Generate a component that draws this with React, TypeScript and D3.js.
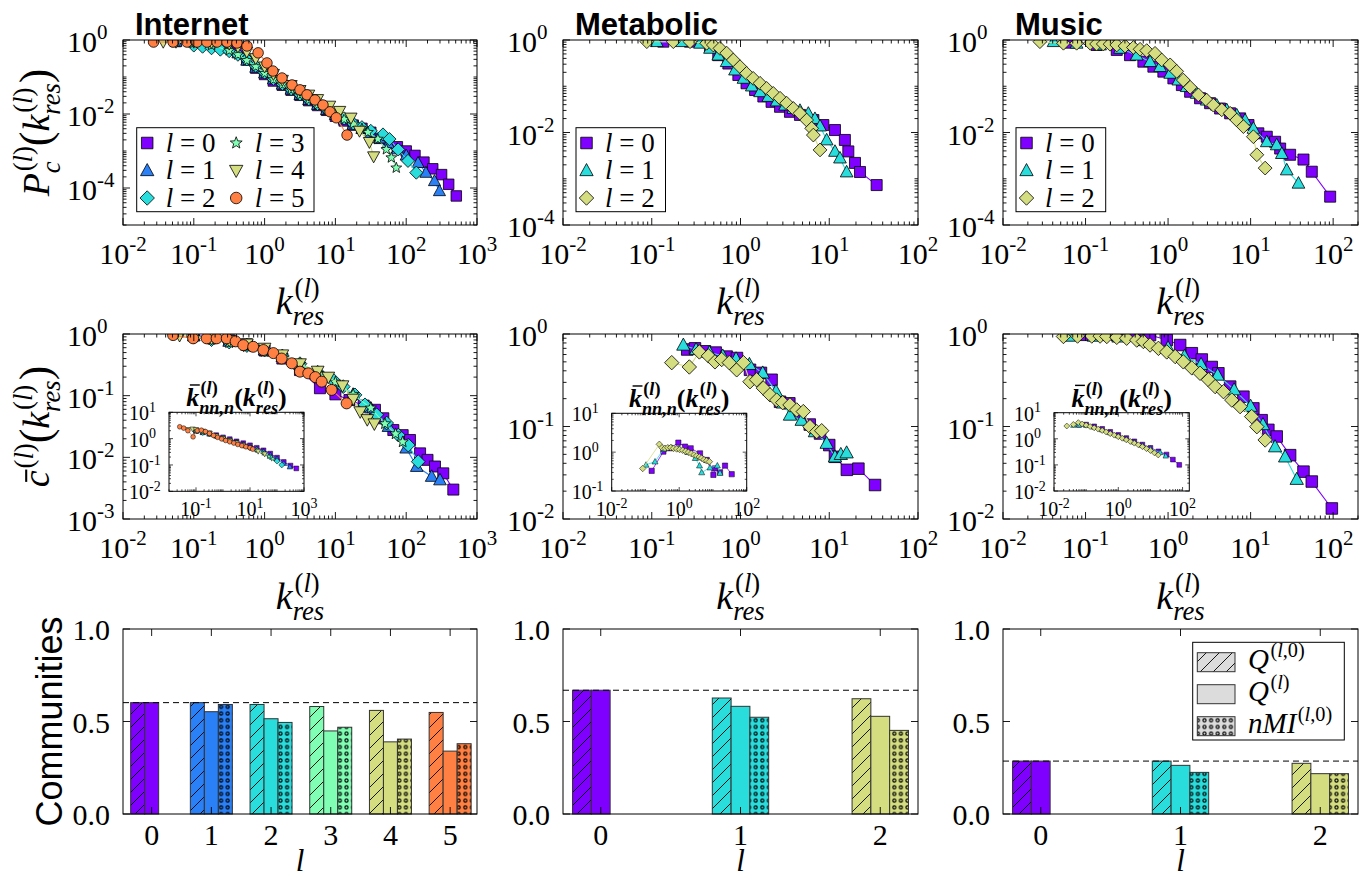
import React, { useLayoutEffect, useRef, useState } from 'react';
import * as d3 from 'd3';

const SERIF = "'Liberation Serif', 'Times New Roman', 'DejaVu Serif', 'Noto Serif', serif";
const SANS = "'Liberation Sans', Arial, Helvetica, sans-serif";

// ---------------- colours, markers, levels ----------------
const internetLevelColors = ['#8000ff', '#2a80f6', '#2adddd', '#80ffb4', '#d4dd80', '#ff8042'];
const threeLevelColors = ['#8000ff', '#2adddd', '#d4dd80'];
const internetMarkers = ['s', '^', 'D', '*', 'v', 'o'];
const threeLevelMarkers = ['s', '^', 'D'];
const internetLevels = [0, 1, 2, 3, 4, 5];
const threeLevels = [0, 1, 2];
const panelTitles = ['Internet', 'Metabolic', 'Music'];

// ---------------- tick exponents ----------------
const inetXExps = [-2, -1, 0, 1, 2, 3];
const smallXExps = [-2, -1, 0, 1, 2];
const topYExps = [0, -2, -4];
const inetMidYExps = [0, -1, -2, -3];
const smallMidYExps = [0, -1, -2];
const barYTicks = [0, 0.5, 1.0];

// ---------------- Internet : P_c(k) ----------------
const inetP_k0 = [0.056, 0.1, 0.178, 0.316, 0.42, 0.56, 0.75, 1, 1.33, 1.78, 2.37, 3.16, 4.2, 5.6, 7.5, 10, 13.3, 17.8, 23.7, 31.6, 42, 56, 75, 100, 133, 178, 237, 316, 398, 510];
const inetP_v0 = [0.91, 0.89, 0.83, 0.63, 0.47, 0.29, 0.174, 0.117, 0.078, 0.060, 0.044, 0.032, 0.023, 0.017, 0.0126, 0.0087, 0.0065, 0.0050, 0.0041, 0.0032, 0.0022, 0.0017, 0.0013, 0.0010, 0.00076, 0.00050, 0.00033, 0.00023, 0.000126, 0.000061];
const inetP_k1 = [0.056, 0.1, 0.178, 0.316, 0.42, 0.56, 0.75, 1, 1.33, 1.78, 2.37, 3.16, 4.2, 5.6, 7.5, 10, 13.3, 17.8, 23.7, 31.6, 42, 56, 75, 100, 147, 190, 251, 295];
const inetP_v1 = [0.91, 0.89, 0.81, 0.60, 0.44, 0.28, 0.18, 0.126, 0.087, 0.063, 0.046, 0.033, 0.024, 0.0178, 0.0129, 0.0095, 0.0071, 0.0052, 0.0040, 0.0030, 0.0022, 0.00158, 0.00112, 0.00076, 0.00048, 0.00026, 0.000155, 0.000083];
const inetP_k2 = [0.1, 0.133, 0.178, 0.237, 0.316, 0.42, 0.56, 0.75, 1, 1.33, 1.78, 2.37, 3.16, 4.2, 5.6, 7.5, 10, 13.3, 17.8, 23.7, 31.6, 47, 58, 77, 106, 139];
const inetP_v2 = [0.71, 0.66, 0.60, 0.55, 0.50, 0.40, 0.30, 0.20, 0.132, 0.089, 0.065, 0.047, 0.034, 0.025, 0.0186, 0.0135, 0.010, 0.0076, 0.0056, 0.0044, 0.0035, 0.0028, 0.0021, 0.0011, 0.00054, 0.00026];
const inetP_k3 = [0.056, 0.1, 0.178, 0.316, 0.42, 0.56, 0.75, 1, 1.33, 1.78, 2.37, 3.16, 4.2, 5.6, 7.5, 10, 13.3, 17.8, 23.7, 28.8, 39.8, 52.5, 61.7, 72.4];
const inetP_v3 = [0.89, 0.83, 0.72, 0.52, 0.40, 0.28, 0.19, 0.126, 0.085, 0.062, 0.045, 0.033, 0.024, 0.0178, 0.0132, 0.0098, 0.0072, 0.0054, 0.0040, 0.0032, 0.0021, 0.0011, 0.00066, 0.00035];
const inetP_k4 = [0.037, 0.056, 0.1, 0.178, 0.316, 0.42, 0.56, 0.75, 1, 1.33, 1.78, 2.37, 3.16, 4.2, 5.6, 8.3, 11.5, 16.6, 21.9, 30.2, 34.7];
const inetP_v4 = [0.89, 0.89, 0.89, 0.87, 0.79, 0.66, 0.48, 0.32, 0.19, 0.12, 0.083, 0.060, 0.044, 0.033, 0.025, 0.0166, 0.0120, 0.0079, 0.0035, 0.00174, 0.00071];
const inetP_k5 = [0.027, 0.051, 0.080, 0.111, 0.153, 0.213, 0.294, 0.407, 0.564, 0.81, 1.08, 1.31, 1.76, 2.44, 3.16, 3.97, 5.15, 6.68, 8.4, 10.3, 14.6];
const inetP_v5 = [0.88, 0.88, 0.88, 0.88, 0.88, 0.88, 0.88, 0.83, 0.69, 0.45, 0.24, 0.145, 0.094, 0.061, 0.045, 0.033, 0.024, 0.0175, 0.0115, 0.0079, 0.0027];

// ---------------- Metabolic : P_c(k) ----------------
const metP_k0 = [0.135, 0.27, 0.453, 0.562, 0.73, 0.946, 1.17, 1.46, 1.81, 2.24, 2.79, 3.61, 4.68, 6.62, 8.57, 11.6, 15.0, 16.4, 19.5, 22.2, 34.2];
const metP_v0 = [0.92, 0.92, 0.72, 0.47, 0.31, 0.175, 0.116, 0.083, 0.060, 0.046, 0.036, 0.028, 0.024, 0.0186, 0.0145, 0.0113, 0.0069, 0.0039, 0.0022, 0.0014, 0.00073];
const metP_k1 = [0.114, 0.217, 0.35, 0.453, 0.562, 0.698, 0.867, 1.08, 1.34, 1.66, 2.06, 2.56, 3.18, 3.94, 4.68, 5.81, 6.9, 7.87, 9.35, 11.6, 13.2, 15.7];
const metP_v1 = [0.92, 0.92, 0.85, 0.66, 0.47, 0.34, 0.224, 0.148, 0.101, 0.076, 0.060, 0.048, 0.039, 0.033, 0.030, 0.026, 0.020, 0.0138, 0.0069, 0.0039, 0.0028, 0.0014];
const metP_k2 = [0.088, 0.175, 0.27, 0.416, 0.494, 0.587, 0.698, 0.83, 0.986, 1.17, 1.39, 1.66, 1.97, 2.34, 2.79, 3.31, 3.94, 4.68, 5.56, 6.34, 6.62, 7.87];
const metP_v2 = [0.92, 0.92, 0.92, 0.85, 0.78, 0.66, 0.52, 0.37, 0.265, 0.19, 0.148, 0.116, 0.090, 0.070, 0.055, 0.043, 0.033, 0.026, 0.0186, 0.0123, 0.0088, 0.0042];

// ---------------- Music : P_c(k) ----------------
const musP_k0 = [0.065, 0.136, 0.239, 0.346, 0.502, 0.664, 0.877, 1.16, 1.47, 1.85, 2.44, 3.23, 4.27, 5.65, 7.46, 9.42, 12.4, 15.7, 19.8, 22.8, 30.1, 43.7, 55.1, 92];
const musP_v0 = [0.875, 0.78, 0.61, 0.47, 0.34, 0.265, 0.207, 0.148, 0.106, 0.076, 0.055, 0.043, 0.033, 0.026, 0.0202, 0.0145, 0.0096, 0.0081, 0.0063, 0.0045, 0.0033, 0.0026, 0.00142, 0.00041];
const musP_k1 = [0.041, 0.078, 0.15, 0.262, 0.417, 0.605, 0.8, 1.06, 1.33, 1.68, 2.22, 2.94, 3.89, 5.14, 6.79, 8.57, 10.8, 15.7, 20.7, 23.9, 27.4, 38];
const musP_v1 = [0.92, 0.85, 0.78, 0.66, 0.47, 0.34, 0.265, 0.19, 0.136, 0.098, 0.070, 0.050, 0.039, 0.031, 0.0239, 0.0186, 0.0123, 0.0063, 0.0054, 0.0035, 0.00155, 0.00080];
const musP_k2 = [0.028, 0.054, 0.078, 0.114, 0.136, 0.164, 0.198, 0.239, 0.301, 0.38, 0.458, 0.551, 0.695, 0.838, 1.06, 1.27, 1.53, 1.85, 2.33, 2.94, 3.54, 4.47, 5.65, 6.79, 8.18, 10.8, 11.9, 15.0];
const musP_v2 = [0.92, 0.85, 0.85, 0.85, 0.82, 0.82, 0.81, 0.78, 0.74, 0.69, 0.63, 0.59, 0.515, 0.37, 0.29, 0.21, 0.136, 0.095, 0.065, 0.050, 0.039, 0.031, 0.026, 0.0186, 0.0134, 0.0081, 0.0033, 0.0017];

// ---------------- Internet : c(k) ----------------
const inetC_k0 = [0.1, 0.178, 0.316, 0.562, 1, 1.78, 3.16, 6.05, 10, 15.8, 25.1, 36.2, 47.5, 65.8, 89.1, 113, 157, 200, 255, 334, 463];
const inetC_v0 = [0.95, 0.89, 0.79, 0.68, 0.54, 0.40, 0.26, 0.132, 0.105, 0.085, 0.069, 0.059, 0.043, 0.0277, 0.0229, 0.0191, 0.0116, 0.0091, 0.0071, 0.0055, 0.0030];
const inetC_k1 = [0.1, 0.178, 0.316, 0.562, 1, 1.78, 3.16, 5.62, 10, 17.8, 31.6, 56.2, 100, 141, 229, 300];
const inetC_v1 = [0.93, 0.85, 0.76, 0.66, 0.55, 0.43, 0.32, 0.22, 0.158, 0.105, 0.063, 0.0316, 0.0141, 0.0071, 0.0049, 0.0043];
const inetC_k2 = [0.1, 0.178, 0.316, 0.562, 1, 1.78, 3.16, 5.62, 9.35, 12.9, 18.9, 26.2, 38.3, 53, 77.4, 107, 148];
const inetC_v2 = [0.89, 0.81, 0.74, 0.65, 0.55, 0.44, 0.33, 0.24, 0.179, 0.140, 0.103, 0.071, 0.049, 0.036, 0.023, 0.0158, 0.0085];
const inetC_k3 = [0.1, 0.178, 0.316, 0.562, 1, 1.78, 3.16, 5.62, 10, 17.8, 31.6, 50.1, 70.8, 89.1];
const inetC_v3 = [0.89, 0.81, 0.72, 0.62, 0.52, 0.41, 0.32, 0.23, 0.166, 0.105, 0.063, 0.035, 0.024, 0.0178];
const inetC_k4 = [0.063, 0.1, 0.178, 0.316, 0.562, 1, 1.78, 3.16, 5.62, 7.94, 12.6, 17.8, 22.4, 28.2, 35.5];
const inetC_v4 = [0.95, 0.91, 0.85, 0.79, 0.69, 0.59, 0.46, 0.33, 0.25, 0.20, 0.145, 0.088, 0.055, 0.041, 0.035];
const inetC_k5 = [0.051, 0.098, 0.152, 0.21, 0.292, 0.39, 0.50, 0.69, 0.96, 1.33, 1.74, 2.42, 3.16, 4.14, 5.2, 6.4, 8.85, 14.4];
const inetC_v5 = [0.96, 0.85, 0.85, 0.85, 0.85, 0.76, 0.66, 0.62, 0.55, 0.49, 0.40, 0.335, 0.245, 0.23, 0.2, 0.169, 0.124, 0.075];

// ---------------- Metabolic : c(k) ----------------
const metC_k0 = [0.251, 0.307, 0.398, 0.525, 0.698, 0.912, 1.28, 1.70, 2.24, 2.79, 3.55, 4.68, 6.03, 7.87, 10, 11.6, 15.8, 21.3, 32.8];
const metC_v0 = [0.68, 0.70, 0.65, 0.63, 0.57, 0.55, 0.41, 0.38, 0.32, 0.185, 0.178, 0.139, 0.105, 0.084, 0.063, 0.047, 0.034, 0.035, 0.0233];
const metC_k1 = [0.227, 0.316, 0.447, 0.631, 0.891, 1.26, 1.78, 2.51, 3.0, 3.61, 4.89, 6.9, 9.35, 11.6, 13.5, 15.7];
const metC_v1 = [0.76, 0.68, 0.63, 0.58, 0.54, 0.47, 0.38, 0.24, 0.18, 0.133, 0.117, 0.088, 0.066, 0.047, 0.050, 0.052];
const metC_k2 = [0.168, 0.265, 0.344, 0.435, 0.516, 0.614, 0.748, 0.906, 1.08, 1.28, 1.52, 1.81, 2.15, 2.56, 2.99, 3.61, 4.3, 5.1, 6.07, 7.21, 8.22];
const metC_v2 = [0.49, 0.44, 0.64, 0.58, 0.50, 0.53, 0.49, 0.41, 0.49, 0.305, 0.32, 0.26, 0.22, 0.193, 0.181, 0.171, 0.151, 0.145, 0.0995, 0.088, 0.090];

// ---------------- Music : c(k) ----------------
const musC_k0 = [0.06, 0.1, 0.15, 0.239, 0.4, 0.605, 0.964, 1.40, 1.94, 2.56, 3.38, 4.07, 5.65, 8.18, 10.8, 13.6, 16.4, 20.7, 30.1, 43.7, 55.1, 96.4];
const musC_v0 = [0.98, 0.98, 0.98, 0.98, 0.98, 0.975, 0.86, 0.76, 0.62, 0.53, 0.44, 0.376, 0.27, 0.21, 0.157, 0.117, 0.092, 0.078, 0.049, 0.0325, 0.0254, 0.0130];
const musC_k1 = [0.063, 0.126, 0.251, 0.501, 1, 1.58, 2.51, 3.98, 6.31, 10, 14.1, 19.8, 26.2, 36.2];
const musC_v1 = [0.95, 0.95, 0.93, 0.85, 0.71, 0.575, 0.47, 0.36, 0.25, 0.166, 0.105, 0.0605, 0.047, 0.0269];
const musC_k2 = [0.054, 0.08, 0.119, 0.15, 0.181, 0.239, 0.315, 0.417, 0.502, 0.605, 0.764, 0.964, 1.22, 1.53, 1.94, 2.44, 3.08, 3.72, 4.69, 5.92, 7.46, 10.3, 11.9, 15.0];
const musC_v2 = [0.94, 0.95, 0.95, 0.95, 0.94, 0.92, 0.90, 0.86, 0.83, 0.76, 0.70, 0.64, 0.57, 0.50, 0.43, 0.376, 0.32, 0.27, 0.238, 0.193, 0.164, 0.128, 0.0995, 0.0715];

// ---------------- Insets : k_nn,n(k) ----------------
const inetK_k0 = [0.1, 0.178, 0.316, 0.562, 1, 1.78, 3.16, 5.62, 10, 17.8, 31.6, 56.2, 100, 178, 316, 519];
const inetK_v0 = [2.0, 1.8, 1.58, 1.35, 1.12, 0.95, 0.79, 0.67, 0.56, 0.45, 0.36, 0.27, 0.19, 0.13, 0.095, 0.074];
const inetK_k1 = [0.1, 0.178, 0.316, 0.562, 1, 1.78, 3.16, 5.62, 10, 17.8, 31.6, 56.2, 100, 178, 300];
const inetK_v1 = [1.9, 1.7, 1.5, 1.27, 1.05, 0.9, 0.74, 0.6, 0.5, 0.4, 0.33, 0.24, 0.17, 0.115, 0.085];
const inetK_k2 = [0.1, 0.178, 0.316, 0.562, 1, 1.78, 3.16, 5.62, 10, 17.8, 31.6, 56.2, 100, 150];
const inetK_v2 = [1.95, 1.7, 1.5, 1.25, 1.05, 0.88, 0.72, 0.58, 0.48, 0.38, 0.3, 0.2, 0.14, 0.1];
const inetK_k3 = [0.1, 0.178, 0.316, 0.562, 1, 1.78, 3.16, 5.62, 10, 17.8, 31.6, 50, 70];
const inetK_v3 = [2.0, 1.75, 1.5, 1.22, 1.0, 0.84, 0.7, 0.57, 0.46, 0.36, 0.28, 0.21, 0.17];
const inetK_k4 = [0.05, 0.075, 0.1, 0.178, 0.316, 0.562, 1, 1.78, 3.16, 5.62, 10, 20, 35];
const inetK_v4 = [2.2, 2.3, 2.2, 1.9, 1.6, 1.25, 1.0, 0.83, 0.68, 0.55, 0.44, 0.33, 0.26];
const inetK_k5 = [0.025, 0.035, 0.05, 0.078, 0.112, 0.158, 0.224, 0.316, 0.447, 0.631, 0.891, 1.26, 1.78, 2.51, 3.55, 5.01, 7.08, 10, 12.6];
const inetK_v5 = [2.82, 2.51, 2.0, 1.17, 2.0, 2.09, 1.86, 1.58, 1.32, 1.12, 0.98, 0.85, 0.76, 0.68, 0.60, 0.54, 0.49, 0.45, 0.40];

const metK_k0 = [0.153, 0.34, 0.535, 0.944, 1.49, 2.19, 4.14, 6.53, 10.3, 11.5, 16.2, 22.8, 36];
const metK_v0 = [0.33, 1.03, 1.26, 1.76, 1.39, 1.26, 0.93, 0.63, 0.26, 0.38, 0.30, 0.45, 0.27];
const metK_k1 = [0.104, 0.192, 0.35, 0.6, 1.0, 1.8, 3.0, 4.0, 4.64, 8.2, 13.5, 16.2];
const metK_v1 = [0.47, 0.57, 1.2, 1.3, 1.25, 1.0, 0.7, 0.45, 0.30, 0.40, 0.45, 0.29];
const metK_k2 = [0.083, 0.258, 0.31, 0.38, 0.46, 0.56, 0.68, 0.84, 1.03, 1.27, 1.55, 1.87, 2.27, 2.75, 3.3, 3.95, 4.6, 5.44, 6.5, 7.83];
const metK_v2 = [0.38, 1.59, 1.3, 1.26, 1.3, 1.31, 1.25, 1.21, 1.17, 1.12, 1.05, 0.99, 0.92, 0.85, 0.8, 0.75, 0.7, 0.64, 0.6, 0.57];

const musK_k0 = [0.06, 0.1, 0.178, 0.316, 0.562, 1, 1.78, 3.16, 5.62, 10, 17.8, 31.6, 50, 78.9];
const musK_v0 = [3.4, 3.5, 3.0, 2.4, 1.85, 1.4, 1.07, 0.8, 0.6, 0.45, 0.33, 0.25, 0.16, 0.1];
const musK_k1 = [0.04, 0.06, 0.1, 0.178, 0.316, 0.562, 1, 1.78, 3.16, 5.62, 10, 20, 30];
const musK_v1 = [3.3, 3.4, 3.3, 2.8, 2.2, 1.7, 1.3, 1.0, 0.75, 0.56, 0.42, 0.3, 0.22];
const musK_k2 = [0.025, 0.04, 0.057, 0.075, 0.1, 0.133, 0.178, 0.237, 0.316, 0.42, 0.562, 0.75, 1, 1.33, 1.78, 2.37, 3.16, 4.2, 5.62, 7.5, 10, 13.3, 17.5];
const musK_v2 = [3.09, 3.55, 4.17, 3.7, 3.31, 2.95, 2.63, 2.35, 2.09, 1.82, 1.58, 1.38, 1.2, 1.05, 0.91, 0.79, 0.68, 0.59, 0.50, 0.42, 0.355, 0.29, 0.24];

// ---------------- Communities bars ----------------
const inetBar_QL0 = [0.602, 0.602, 0.592, 0.581, 0.56, 0.549];
const inetBar_QL = [0.602, 0.553, 0.515, 0.449, 0.39, 0.34];
const inetBar_NMI = [null, 0.592, 0.495, 0.469, 0.405, 0.38];
const metBar_QL0 = [0.669, 0.627, 0.623];
const metBar_QL = [0.669, 0.582, 0.528];
const metBar_NMI = [null, 0.523, 0.452];
const musBar_QL0 = [0.286, 0.286, 0.274];
const musBar_QL = [0.286, 0.263, 0.218];
const musBar_NMI = [null, 0.225, 0.218];

// ================= helpers =================
const MARKER_BASE: Record<string, number> = { s: 10.5, '^': 11, D: 10.5, '*': 9.5, v: 11, o: 10.5 };

function markerPath(m: string, s: number): string {
  const h = s / 2;
  if (m === 's') return `M${-h},${-h}H${h}V${h}H${-h}Z`;
  if (m === '^') return `M0,${-h * 1.15}L${h * 1.1},${h * 0.85}L${-h * 1.1},${h * 0.85}Z`;
  if (m === 'v') return `M0,${h * 1.15}L${h * 1.1},${-h * 0.85}L${-h * 1.1},${-h * 0.85}Z`;
  if (m === 'D') { const d = h * 1.25; return `M0,${-d}L${d},0L0,${d}L${-d},0Z`; }
  if (m === 'o') return `M${h},0A${h},${h},0,1,1,${-h},0A${h},${h},0,1,1,${h},0Z`;
  const R = h * 1.2, r = R * 0.42;
  let p = '';
  for (let i = 0; i < 10; i++) {
    const a = -Math.PI / 2 + (i * Math.PI) / 5;
    const rr = i % 2 === 0 ? R : r;
    p += (i === 0 ? 'M' : 'L') + (rr * Math.cos(a)).toFixed(2) + ',' + (rr * Math.sin(a)).toFixed(2);
  }
  return p + 'Z';
}

type Run = { t: string; it?: boolean };
type Atom = { base: Run[]; sub?: Run[]; sup?: Run[]; bar?: number; sc?: number };

const W_UP: Record<string, number> = { '(': 0.333, ')': 0.333, ',': 0.25, '=': 0.564, ' ': 0.25, '-': 0.333, '.': 0.25 };
const W_IT: Record<string, number> = { P: 0.611, c: 0.444, k: 0.444, r: 0.389, e: 0.444, s: 0.389, l: 0.278, n: 0.5, M: 0.833, I: 0.333, Q: 0.722, ',': 0.25 };

function runW(r: Run, size: number) {
  let w = 0;
  for (const ch of r.t) w += (r.it ? W_IT[ch] : W_UP[ch]) ?? 0.5;
  return w * size;
}

function MathText({ atoms, x, y, size, anchor = 'start', bold = false }: any) {
  const S = size;
  const flat: any[] = [];
  (atoms as Atom[]).forEach((a, ai) => {
    a.base.forEach((r) => flat.push({ r, ai, role: 'base', s: S * (a.sc ?? 1) }));
    (a.sup || []).forEach((r) => flat.push({ r, ai, role: 'sup', s: S * 0.7 }));
    (a.sub || []).forEach((r) => flat.push({ r, ai, role: 'sub', s: S * 0.7 }));
  });
  const refs = useRef<any[]>([]);
  const [widths, setWidths] = useState<number[] | null>(null);
  useLayoutEffect(() => {
    const ws = flat.map((f, i) => {
      const el = refs.current[i];
      const w = el ? el.getComputedTextLength() : 0;
      return w > 0 ? w : runW(f.r, f.s);
    });
    if (!widths || ws.length !== widths.length || ws.some((w, i) => Math.abs(w - widths[i]) > 0.05)) setWidths(ws);
  });
  const wOf = (i: number) => (widths && widths.length === flat.length ? widths[i] : runW(flat[i].r, flat[i].s));

  const pos: any[] = new Array(flat.length);
  const bars: any[] = [];
  let cx = 0;
  (atoms as Atom[]).forEach((a, ai) => {
    const bs = S * (a.sc ?? 1);
    let bx = cx;
    flat.forEach((f, i) => {
      if (f.ai === ai && f.role === 'base') { pos[i] = { x: bx, y: a.sc ? (a.sc - 1) * S * 0.25 : 0 }; bx += wOf(i); }
    });
    if (a.bar) bars.push({ x1: cx + 0.14 * bs, x2: bx + 0.02 * bs, y: -a.bar * bs });
    const last = a.base[a.base.length - 1];
    const ic = last.it ? 0.05 * bs : 0;
    let sw = 0;
    if (a.sup) {
      let sx = bx + ic;
      const sy = -(a.sub ? 0.46 : 0.42) * S;
      flat.forEach((f, i) => { if (f.ai === ai && f.role === 'sup') { pos[i] = { x: sx, y: sy }; sx += wOf(i); } });
      sw = Math.max(sw, sx - bx);
    }
    if (a.sub) {
      let sx = bx;
      const sy = (a.sup ? 0.3 : 0.22) * S;
      flat.forEach((f, i) => { if (f.ai === ai && f.role === 'sub') { pos[i] = { x: sx, y: sy }; sx += wOf(i); } });
      sw = Math.max(sw, sx - bx);
    }
    cx = bx + sw;
  });
  const off = anchor === 'middle' ? -cx / 2 : anchor === 'end' ? -cx : 0;
  return (
    <g transform={`translate(${x + off},${y})`}>
      {flat.map((f, i) => (
        <text key={i} ref={(el) => { refs.current[i] = el; }} x={pos[i].x} y={pos[i].y} fontSize={f.s}
          fontStyle={f.r.it ? 'italic' : 'normal'} fontWeight={bold ? 'bold' : 'normal'} fontFamily={SERIF}
          fill="#000" xmlSpace="preserve">{f.r.t}</text>
      ))}
      {bars.map((b, i) => (
        <line key={'b' + i} x1={b.x1} x2={b.x2} y1={b.y} y2={b.y} stroke="#000" strokeWidth={S * 0.055} />
      ))}
    </g>
  );
}

const parenL: Run[] = [{ t: '(' }, { t: 'l', it: true }, { t: ')' }];
const kresAtom: Atom = { base: [{ t: 'k', it: true }], sub: [{ t: 'res', it: true }], sup: parenL };
const xLabelAtoms: Atom[] = [kresAtom];
const pLabelAtoms: Atom[] = [
  { base: [{ t: 'P', it: true }], sub: [{ t: 'c', it: true }], sup: parenL },
  { base: [{ t: '(' }], sc: 1.15 }, kresAtom, { base: [{ t: ')' }], sc: 1.15 },
];
const cLabelAtoms: Atom[] = [
  { base: [{ t: 'c', it: true }], bar: 0.6, sup: parenL },
  { base: [{ t: '(' }], sc: 1.15 }, kresAtom, { base: [{ t: ')' }], sc: 1.15 },
];
const insetTitleAtoms: Atom[] = [
  { base: [{ t: 'k', it: true }], bar: 0.82, sub: [{ t: 'nn,n', it: true }], sup: parenL },
  { base: [{ t: '(' }] }, kresAtom, { base: [{ t: ')' }] },
];

function Pow10({ x, y, e, fs, anchor }: any) {
  return (
    <text x={x} y={y} fontSize={fs} fontFamily={SERIF} textAnchor={anchor} fill="#000">
      10<tspan dy={-0.42 * fs} fontSize={fs * 0.7}>{e < 0 ? '-' + -e : String(e)}</tspan>
    </text>
  );
}

function logMinors(dom: number[], majors: number[]) {
  const out: number[] = [];
  const e0 = Math.floor(Math.log10(dom[0]) - 1e-9);
  const e1 = Math.ceil(Math.log10(dom[1]) + 1e-9);
  for (let e = e0; e <= e1; e++) {
    for (let m = 1; m <= 9; m++) {
      const v = m * Math.pow(10, e);
      if (v < dom[0] * 0.999 || v > dom[1] * 1.001) continue;
      if (majors.some((M) => Math.abs(M / v - 1) < 1e-6)) continue;
      out.push(v);
    }
  }
  return out;
}

function LogPanel({ box, xDom, yDom, xExps, yExps, series, id, inset = false }: any) {
  const x = d3.scaleLog().domain(xDom).range([box.l, box.r]);
  const y = d3.scaleLog().domain(yDom).range([box.b, box.t]);
  const majL = inset ? 4 : 7;
  const minL = inset ? 2 : 3.5;
  const fs = inset ? 20 : 30;
  const xMaj = xExps.map((e: number) => Math.pow(10, e));
  const yMaj = yExps.map((e: number) => Math.pow(10, e));
  const xMin = logMinors(xDom, xMaj);
  const yMin = logMinors(yDom, yMaj);
  let tk = '';
  xMaj.forEach((v: number) => { const p = x(v); tk += `M${p},${box.b}v${-majL}M${p},${box.t}v${majL}`; });
  xMin.forEach((v: number) => { const p = x(v); tk += `M${p},${box.b}v${-minL}M${p},${box.t}v${minL}`; });
  yMaj.forEach((v: number) => { const p = y(v); tk += `M${box.l},${p}h${majL}M${box.r},${p}h${-majL}`; });
  yMin.forEach((v: number) => { const p = y(v); tk += `M${box.l},${p}h${minL}M${box.r},${p}h${-minL}`; });
  const line = d3.line<number[]>().x((d) => x(d[0])).y((d) => y(d[1]));
  const w = box.r - box.l, h = box.b - box.t;
  return (
    <g>
      {inset && <rect x={box.l} y={box.t} width={w} height={h} fill="#fff" />}
      <clipPath id={id}><rect x={box.l} y={box.t} width={w} height={h} /></clipPath>
      <g clipPath={`url(#${id})`}>
        {series.map((s: any, i: number) => {
          const pts = s.k.map((k: number, j: number) => [k, s.v[j]]);
          const mp = markerPath(s.marker, s.size);
          return (
            <g key={i}>
              <path d={line(pts) || ''} fill="none" stroke={s.color} strokeWidth={inset ? 0.8 : 1.1} />
              {pts.map((p: number[], j: number) => (
                <path key={j} d={mp} transform={`translate(${x(p[0])},${y(p[1])})`} fill={s.color}
                  stroke="#000" strokeWidth={inset ? 0.5 : 0.8} />
              ))}
            </g>
          );
        })}
      </g>
      <path d={tk} stroke="#000" strokeWidth={inset ? 0.7 : 0.9} fill="none" />
      <rect x={box.l} y={box.t} width={w} height={h} fill="none" stroke="#000" strokeWidth={1} />
      {xExps.map((e: number) => (
        <Pow10 key={'x' + e} x={x(Math.pow(10, e))} y={box.b + (inset ? 25 : 39)} e={e} fs={fs} anchor="middle" />
      ))}
      {yExps.map((e: number) => (
        <Pow10 key={'y' + e} x={box.l - (inset ? 40 : 56)} y={y(Math.pow(10, e)) + (inset ? 8 : 12)} e={e} fs={fs} anchor="start" />
      ))}
    </g>
  );
}

function makeSeries(ks: number[][], vs: number[][], colors: string[], markers: string[], scale: number) {
  return ks.map((k, i) => ({ k, v: vs[i], color: colors[i], marker: markers[i], size: MARKER_BASE[markers[i]] * scale }));
}

function LevelLegend({ x, y, w, levels, colors, markers }: any) {
  return (
    <g>
      <rect x={x} y={y} width={w} height={84} fill="#fff" stroke="#000" strokeWidth={1} />
      {levels.map((lv: number, i: number) => {
        const col = Math.floor(i / 3), row = i % 3;
        const my = y + 15.3 + row * 27.5;
        const mx = x + 10.5 + col * 89;
        const tx = x + 29 + col * 89;
        return (
          <g key={i}>
            <path d={markerPath(markers[i], MARKER_BASE[markers[i]] * 1.1)} transform={`translate(${mx},${my})`}
              fill={colors[i]} stroke="#000" strokeWidth={0.8} />
            <MathText x={tx} y={my + 8.5} size={27}
              atoms={[{ base: [{ t: 'l', it: true }] }, { base: [{ t: ' = ' }] }, { base: [{ t: String(lv) }] }]} />
          </g>
        );
      })}
    </g>
  );
}

function BarPanel({ box, xDom, levels, colors, ql0, ql, nmi, barUnit, legend = false }: any) {
  const x = d3.scaleLinear().domain(xDom).range([box.l, box.r]);
  const y = d3.scaleLinear().domain([0, 1]).range([box.b, box.t]);
  const bw = x(barUnit) - x(0);
  const w = box.r - box.l, h = box.b - box.t;
  let tk = '';
  levels.forEach((lv: number) => { const p = x(lv); tk += `M${p},${box.b}v-7M${p},${box.t}v7`; });
  barYTicks.forEach((v) => { const p = y(v); tk += `M${box.l},${p}h7M${box.r},${p}h-7`; });
  const bar = (x0: number, v: number, color: string, pat: string | null, key: string) => (
    <g key={key}>
      <rect x={x0} y={y(v)} width={bw} height={y(0) - y(v)} fill={color} />
      {pat && <rect x={x0} y={y(v)} width={bw} height={y(0) - y(v)} fill={`url(#${pat})`} />}
      <rect x={x0} y={y(v)} width={bw} height={y(0) - y(v)} fill="none" stroke="#333" strokeWidth={1} />
    </g>
  );
  return (
    <g>
      {levels.map((lv: number, i: number) => {
        const c = x(lv);
        return (
          <g key={i}>
            {bar(c - 1.5 * bw, ql0[i], colors[i], 'hatch', 'a')}
            {bar(c - 0.5 * bw, ql[i], colors[i], null, 'b')}
            {nmi[i] != null && bar(c + 0.5 * bw, nmi[i], colors[i], 'dots', 'c')}
          </g>
        );
      })}
      <line x1={box.l} x2={box.r} y1={y(ql0[0])} y2={y(ql0[0])} stroke="#000" strokeWidth={1} strokeDasharray="6,4" />
      <path d={tk} stroke="#000" strokeWidth={0.9} fill="none" />
      <rect x={box.l} y={box.t} width={w} height={h} fill="none" stroke="#000" strokeWidth={1} />
      {barYTicks.map((v) => (
        <text key={'y' + v} x={box.l - 13} y={y(v) + 11} fontSize={30} fontFamily={SERIF} textAnchor="end">{v.toFixed(1)}</text>
      ))}
      {levels.map((lv: number) => (
        <text key={'x' + lv} x={x(lv)} y={box.b + 31} fontSize={30} fontFamily={SERIF} textAnchor="middle">{String(lv)}</text>
      ))}
      <MathText x={(box.l + box.r) / 2} y={box.b + 57} size={31} anchor="middle" atoms={[{ base: [{ t: 'l', it: true }] }]} />
      {legend && (
        <g>
          <rect x={box.l + 189.7} y={box.t + 13.3} width={151.6} height={97.7} fill="#fff" stroke="#000" strokeWidth={1} />
          {[
            { pat: 'hatch', atoms: [{ base: [{ t: 'Q', it: true }], sup: [{ t: '(' }, { t: 'l', it: true }, { t: ',0)' }] }] },
            { pat: null, atoms: [{ base: [{ t: 'Q', it: true }], sup: parenL }] },
            { pat: 'dots', atoms: [{ base: [{ t: 'nMI', it: true }], sup: [{ t: '(' }, { t: 'l', it: true }, { t: ',0)' }] }] },
          ].map((e, i) => {
            const py = box.t + 13.3 + 10.4 + i * 32;
            const px = box.l + 189.7 + 4.6;
            return (
              <g key={i}>
                <rect x={px} y={py} width={37.7} height={19} fill="#dcdcdc" />
                {e.pat && <rect x={px} y={py} width={37.7} height={19} fill={`url(#${e.pat})`} />}
                <rect x={px} y={py} width={37.7} height={19} fill="none" stroke="#333" strokeWidth={1} />
                <MathText x={box.l + 189.7 + 55.3} y={py + 16.5} size={29} atoms={e.atoms} />
              </g>
            );
          })}
        </g>
      )}
    </g>
  );
}

// ================= layout =================
const COLS: { l: number; r: number }[] = [{ l: 123, r: 477 }, { l: 563, r: 918 }, { l: 1003, r: 1358 }];
const ROW_TOP = { t: 40, b: 225 };
const ROW_MID = { t: 334, b: 519 };
const ROW_BOT = { t: 629, b: 814 };

export default function App() {
  const boxTop = COLS.map((c) => ({ ...c, ...ROW_TOP }));
  const boxMid = COLS.map((c) => ({ ...c, ...ROW_MID }));
  const boxBot = COLS.map((c) => ({ ...c, ...ROW_BOT }));

  const xDoms = [[1e-2, 1e3], [1e-2, 1e2], [1e-2, 200]];
  const xExps = [inetXExps, smallXExps, smallXExps];

  const topSeries = [
    makeSeries([inetP_k0, inetP_k1, inetP_k2, inetP_k3, inetP_k4, inetP_k5], [inetP_v0, inetP_v1, inetP_v2, inetP_v3, inetP_v4, inetP_v5], internetLevelColors, internetMarkers, 1),
    makeSeries([metP_k0, metP_k1, metP_k2], [metP_v0, metP_v1, metP_v2], threeLevelColors, threeLevelMarkers, 1.05),
    makeSeries([musP_k0, musP_k1, musP_k2], [musP_v0, musP_v1, musP_v2], threeLevelColors, threeLevelMarkers, 1.05),
  ];
  const midSeries = [
    makeSeries([inetC_k0, inetC_k1, inetC_k2, inetC_k3, inetC_k4, inetC_k5], [inetC_v0, inetC_v1, inetC_v2, inetC_v3, inetC_v4, inetC_v5], internetLevelColors, internetMarkers, 1.05),
    makeSeries([metC_k0, metC_k1, metC_k2], [metC_v0, metC_v1, metC_v2], threeLevelColors, threeLevelMarkers, 1.1),
    makeSeries([musC_k0, musC_k1, musC_k2], [musC_v0, musC_v1, musC_v2], threeLevelColors, threeLevelMarkers, 1.1),
  ];
  const insetSeries = [
    makeSeries([inetK_k0, inetK_k1, inetK_k2, inetK_k3, inetK_k4, inetK_k5], [inetK_v0, inetK_v1, inetK_v2, inetK_v3, inetK_v4, inetK_v5], internetLevelColors, internetMarkers, 0.45),
    makeSeries([metK_k0, metK_k1, metK_k2], [metK_v0, metK_v1, metK_v2], threeLevelColors, threeLevelMarkers, 0.5),
    makeSeries([musK_k0, musK_k1, musK_k2], [musK_v0, musK_v1, musK_v2], threeLevelColors, threeLevelMarkers, 0.45),
  ];
  const insetBoxes = [
    { l: 169, r: 304, t: 412.3, b: 491.3 },
    { l: 611.7, r: 746.7, t: 413.3, b: 491 },
    { l: 1054, r: 1189.3, t: 412.7, b: 491 },
  ];
  const insetX = [[1e-2, 1e3], [1e-2, 1e2], [1e-2, 162]];
  const insetXExps = [[-1, 1, 3], [-2, 0, 2], [-2, 0, 2]];
  const insetY = [[1e-2, 1e1], [1e-1, 1e1], [1e-2, 1e1]];
  const insetYExps = [[1, 0, -1, -2], [1, 0, -1], [1, 0, -1, -2]];

  const legends = [
    { w: 177.3, levels: internetLevels, colors: internetLevelColors, markers: internetMarkers, dx: 13.7 },
    { w: 89.5, levels: threeLevels, colors: threeLevelColors, markers: threeLevelMarkers, dx: 13 },
    { w: 89.7, levels: threeLevels, colors: threeLevelColors, markers: threeLevelMarkers, dx: 13 },
  ];

  const bars = [
    { xDom: [-0.48, 5.45], levels: internetLevels, colors: internetLevelColors, ql0: inetBar_QL0, ql: inetBar_QL, nmi: inetBar_NMI, barUnit: 0.2345 },
    { xDom: [-0.27, 2.27], levels: threeLevels, colors: threeLevelColors, ql0: metBar_QL0, ql: metBar_QL, nmi: metBar_NMI, barUnit: 0.1345 },
    { xDom: [-0.27, 2.27], levels: threeLevels, colors: threeLevelColors, ql0: musBar_QL0, ql: musBar_QL, nmi: musBar_NMI, barUnit: 0.1345 },
  ];

  return (
    <svg width={1368} height={880} viewBox="0 0 1368 880" style={{ position: 'absolute', left: 0, top: 0, display: 'block' }}>
      <defs>
        <pattern id="hatch" patternUnits="userSpaceOnUse" width={13} height={13}>
          <path d="M0,13L13,0M-3.25,3.25L3.25,-3.25M9.75,16.25L16.25,9.75" stroke="#000" strokeWidth={0.9} />
        </pattern>
        <pattern id="dots" patternUnits="userSpaceOnUse" width={6.6} height={6.7}>
          <circle cx={3.3} cy={3.35} r={1.55} fill="none" stroke="#000" strokeWidth={1.15} />
        </pattern>
      </defs>
      <rect x={0} y={0} width={1368} height={880} fill="#fff" />

      {/* titles */}
      {COLS.map((c, i) => (
        <text key={'t' + i} x={c.l + 12} y={35} fontFamily={SANS} fontWeight="bold" fontSize={31} fill="#000">{panelTitles[i]}</text>
      ))}

      {/* top row */}
      {boxTop.map((b, i) => (
        <g key={'top' + i}>
          <LogPanel box={b} xDom={xDoms[i]} yDom={i === 0 ? [1e-5, 1] : [1e-4, 1]} xExps={xExps[i]} yExps={topYExps}
            series={topSeries[i]} id={'clipTop' + i} />
          <LevelLegend x={b.l + legends[i].dx} y={b.t + 87.7} w={legends[i].w} levels={legends[i].levels}
            colors={legends[i].colors} markers={legends[i].markers} />
          <MathText x={(b.l + b.r) / 2} y={b.b + 89} size={38} anchor="middle" atoms={xLabelAtoms} />
        </g>
      ))}
      <g transform="translate(49,132.5) rotate(-90)">
        <MathText x={0} y={0} size={38} anchor="middle" atoms={pLabelAtoms} />
      </g>

      {/* middle row */}
      {boxMid.map((b, i) => (
        <g key={'mid' + i}>
          <LogPanel box={b} xDom={xDoms[i]} yDom={i === 0 ? [1e-3, 1] : [1e-2, 1]} xExps={xExps[i]}
            yExps={i === 0 ? inetMidYExps : smallMidYExps} series={midSeries[i]} id={'clipMid' + i} />
          <LogPanel box={insetBoxes[i]} xDom={insetX[i]} yDom={insetY[i]} xExps={insetXExps[i]} yExps={insetYExps[i]}
            series={insetSeries[i]} id={'clipIns' + i} inset />
          <MathText x={(insetBoxes[i].l + insetBoxes[i].r) / 2} y={insetBoxes[i].t - 6} size={26} anchor="middle" bold atoms={insetTitleAtoms} />
          <MathText x={(b.l + b.r) / 2} y={b.b + 90} size={38} anchor="middle" atoms={xLabelAtoms} />
        </g>
      ))}
      <g transform="translate(49,426.5) rotate(-90)">
        <MathText x={0} y={0} size={38} anchor="middle" atoms={cLabelAtoms} />
      </g>

      {/* bottom row */}
      {boxBot.map((b, i) => (
        <BarPanel key={'bot' + i} box={b} {...bars[i]} legend={i === 2} />
      ))}
      <text transform="translate(62,721.5) rotate(-90)" textAnchor="middle" fontFamily={SANS} fontSize={36} fill="#000">Communities</text>
    </svg>
  );
}
